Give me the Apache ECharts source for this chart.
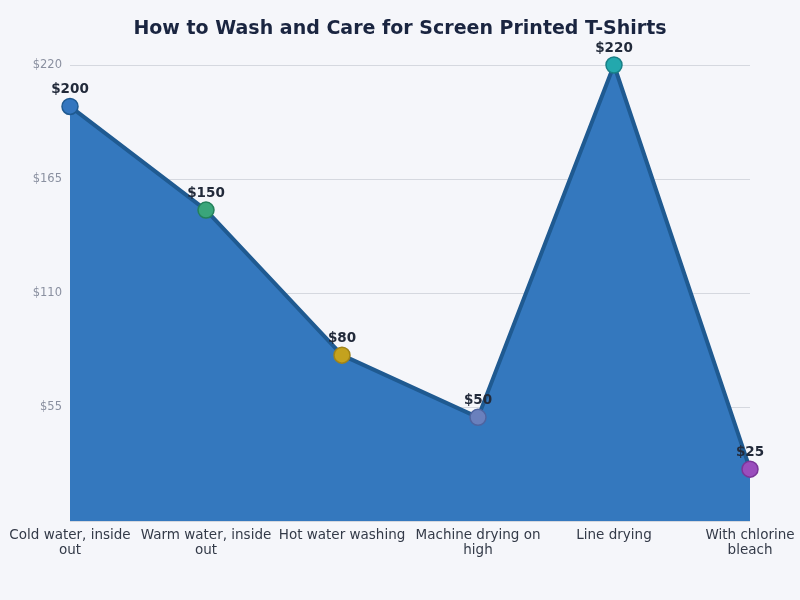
<!DOCTYPE html>
<html><head><meta charset="utf-8">
<script src="https://cdn.jsdelivr.net/npm/echarts@6/dist/echarts.min.js"></script>
<style>html,body{margin:0;padding:0;background:#f5f6fa;}#c{width:800px;height:600px;}</style>
</head><body><div id="c"></div>
<script>
const categories = ["Cold water, inside out", "Warm water, inside out", "Hot water washing", "Machine drying on high", "Line drying", "With chlorine bleach"];
const values = [200, 150, 80, 50, 220, 25];
const pointColors = ["#3476bf", "#3aa57a", "#c4a21e", "#6a80bd", "#23a8ad", "#9a4dbd"];
const pointBorders = ["#1f5a91", "#23805a", "#a08318", "#4e64a0", "#187f86", "#7a3598"];
const yTicks = [0, 55, 110, 165, 220];

const chart = echarts.init(document.getElementById('c'));
chart.setOption({
  backgroundColor: '#f5f6fa',
  textStyle: { fontFamily: 'DejaVu Sans' },
  title: {
    text: 'How to Wash and Care for Screen Printed T-Shirts',
    left: 'center', top: 15,
    textStyle: { fontSize: 19, fontWeight: 'bold', color: '#1a2540', fontFamily: 'DejaVu Sans' }
  },
  grid: { left: 70, right: 50, top: 65, bottom: 79 },
  xAxis: {
    type: 'category', data: categories, boundaryGap: false,
    axisLine: { show: false }, axisTick: { show: false },
    axisLabel: {
      color: '#333a48', fontSize: 13.5, margin: 7, interval: 0, lineHeight: 15,
      formatter: function (v) {
        const map = {
          "Cold water, inside out": "Cold water, inside\nout",
          "Warm water, inside out": "Warm water, inside\nout",
          "Machine drying on high": "Machine drying on\nhigh",
          "With chlorine bleach": "With chlorine\nbleach"
        };
        return map[v] || v;
      }
    }
  },
  yAxis: {
    type: 'value', min: yTicks[0], max: yTicks[yTicks.length - 1], interval: 55,
    axisLine: { show: false }, axisTick: { show: false },
    splitLine: { lineStyle: { color: '#d5d8df' } },
    axisLabel: { color: '#8a90a0', fontSize: 11.5, margin: 8, showMinLabel: false, formatter: '${value}' }
  },
  series: [{
    type: 'line',
    data: values.map((v, i) => ({
      value: v,
      itemStyle: { color: pointColors[i], borderColor: pointBorders[i], borderWidth: 1.5 }
    })),
    symbol: 'circle', symbolSize: 16,
    lineStyle: { color: '#1f5a91', width: 4 },
    areaStyle: { color: '#3478be', opacity: 1 },
    label: {
      show: true, position: 'top', distance: 1,
      formatter: '${c}', color: '#222a3a', fontWeight: 'bold', fontSize: 13.5
    },
    z: 2
  }]
});
</script></body></html>
